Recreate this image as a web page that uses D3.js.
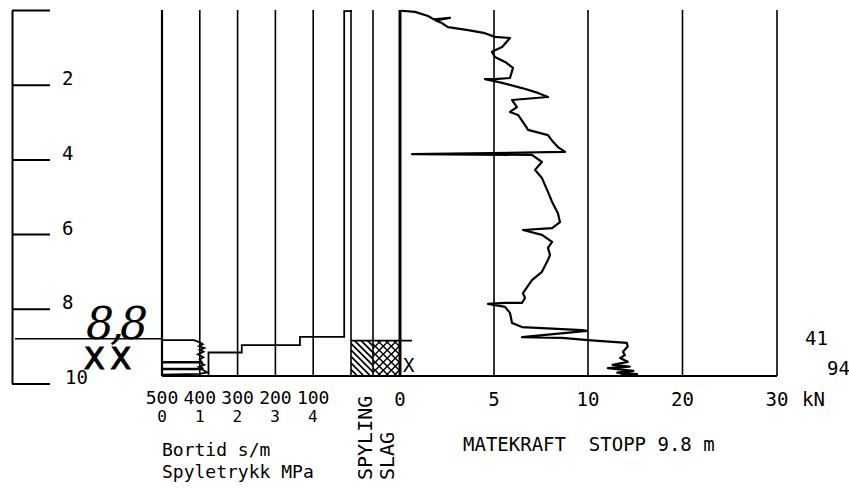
<!DOCTYPE html>
<html><head><meta charset="utf-8">
<script src="https://cdn.jsdelivr.net/npm/d3@7"></script>
<style>
body{margin:0;background:#fff}
svg{display:block}
text{font-family:"DejaVu Sans Mono",monospace;fill:#000;white-space:pre}
</style>
</head><body>
<svg id="c" width="849" height="489"></svg>
<script>
// ---------- data ----------
const depthTicks = [0, 2, 4, 6, 8, 10];
const bortTicks = [500, 400, 300, 200, 100, 0];
const bortLabels = [500, 400, 300, 200, 100];
const spylLabels = [0, 1, 2, 3, 4];
const mateTicks = [0, 5, 10, 20, 30];
const stopDepth = 9.8;
const markDepth = 8.8;
const hatchTop = 8.85;
// Bortid s/m, step trace: [depth where value starts, value]
const bortData = [[0, 0], [0.03, 18], [8.75, 135], [8.97, 289], [9.17, 377], [9.8, 377]];
// Spyletrykk MPa: [depth, MPa]
const spylData = [[0, 0], [8.84, 0], [8.84, 0.85], [8.9, 1.0], [8.95, 1.08], [9.0, 0.98], [9.05, 1.12],
  [9.1, 1.0], [9.15, 1.1], [9.22, 0.95], [9.3, 1.1], [9.36, 1.0], [9.42, 1.05], [9.42, 0], [9.44, 0],
  [9.44, 1.0], [9.5, 1.12], [9.55, 0.98], [9.6, 1.1], [9.6, 0], [9.62, 0], [9.62, 1.05], [9.7, 1.2],
  [9.74, 1.0], [9.76, 0], [9.8, 0]];
// Matekraft kN: [depth, kN]
const mateData = [[0.02, 0.05], [0.05, 0.8], [0.16, 1.49], [0.25, 1.8], [0.21, 2.66], [0.28, 1.9],
  [0.35, 2.23], [0.46, 2.55], [0.54, 3.62], [0.62, 4.52], [0.72, 5.05], [0.75, 5.85], [0.99, 5.43],
  [1.12, 4.89], [1.26, 5.05], [1.39, 5.59], [1.55, 6.01], [1.82, 5.85], [1.85, 5.05], [1.85, 4.52],
  [1.95, 5.43], [2.09, 6.49], [2.22, 7.34], [2.33, 7.87], [2.41, 5.96], [2.6, 6.22], [2.73, 5.85],
  [2.81, 6.28], [3.08, 6.65], [3.21, 6.81], [3.35, 7.87], [3.53, 8.14], [3.67, 8.4], [3.8, 8.78],
  [3.86, 0.64], [3.88, 7.02], [4.07, 7.55], [4.28, 7.18], [4.5, 7.55], [4.87, 7.87], [5.14, 8.09],
  [5.44, 8.4], [5.68, 8.51], [5.84, 8.09], [5.89, 6.54], [6.02, 7.55], [6.21, 8.09], [6.37, 7.87],
  [6.56, 7.98], [6.69, 7.87], [7.01, 7.55], [7.23, 7.02], [7.42, 6.76], [7.58, 6.54], [7.71, 6.65],
  [7.84, 6.49], [7.84, 5.59], [7.87, 4.68], [7.95, 5.59], [8.11, 5.85], [8.38, 5.96], [8.49, 6.49],
  [8.57, 9.68], [8.59, 9.95], [8.76, 6.49], [8.78, 8.62], [8.84, 10.0], [8.91, 14.1], [9.01, 14.2],
  [9.15, 13.7], [9.24, 13.9], [9.32, 13.4], [9.42, 14.2], [9.5, 12.6], [9.55, 14.4], [9.59, 12.1],
  [9.66, 14.8], [9.71, 13.1], [9.75, 15.2], [9.78, 13.4]];
const rightLabels = ["41", "94"];

// ---------- scales ----------
const svg = d3.select("#c");
const y = d3.scaleLinear().domain([0, 10]).range([10, 383.5]);
const xB = d3.scaleLinear().domain([500, 0]).range([162, 351]);
const xS = d3.scaleLinear().domain([0, 5]).range([162, 350.5]);
const xM = d3.scaleLinear().domain([0, 10, 30]).range([400, 588, 777]);
const yTop = y(0), yBot = y(stopDepth);
const colMid = 373;

// ---------- depth axis ----------
const ax = svg.append("g").attr("transform", "translate(12,0)")
  .call(d3.axisRight(y).tickValues(depthTicks).tickSize(38).tickSizeOuter(0)
    .tickFormat(d => d ? d : ""))
  .attr("font-family", "DejaVu Sans Mono").attr("font-size", 19);
ax.select(".domain").attr("stroke-width", 2);
ax.selectAll(".tick line").attr("stroke-width", 2);
ax.selectAll(".tick text").attr("x", d => d === 10 ? 53 : 50).attr("dy", 0);

// 8.8 marker line
svg.append("line").attr("x1", 15).attr("x2", xB(500)).attr("y1", y(markDepth)).attr("y2", y(markDepth))
  .attr("stroke", "#000").attr("stroke-width", 1.6);

// ---------- grids ----------
const g = svg.append("g").attr("stroke", "#000");
g.selectAll(".bg").data(bortTicks).join("line")
  .attr("x1", d => xB(d)).attr("x2", d => xB(d)).attr("y1", yTop).attr("y2", yBot)
  .attr("stroke-width", d => d === 500 ? 2.2 : 1.6);
g.append("line").attr("x1", colMid).attr("x2", colMid).attr("y1", yTop).attr("y2", yBot).attr("stroke-width", 1.6);
g.selectAll(".mg").data(mateTicks).join("line")
  .attr("x1", d => xM(d)).attr("x2", d => xM(d)).attr("y1", yTop).attr("y2", yBot)
  .attr("stroke-width", d => d === 0 ? 3 : 1.6);
g.append("line").attr("x1", xB(500)).attr("x2", xM(30)).attr("y1", yBot).attr("y2", yBot).attr("stroke-width", 2);

// ---------- hatching ----------
const defs = svg.append("defs");
const hy0 = y(hatchTop), hh = yBot - hy0;
defs.append("clipPath").attr("id", "cs").append("rect")
  .attr("x", xB(0)).attr("y", hy0).attr("width", colMid - xB(0)).attr("height", hh);
defs.append("clipPath").attr("id", "cl").append("rect")
  .attr("x", colMid).attr("y", hy0).attr("width", xM(0) - colMid).attr("height", hh);
const hs = svg.append("g").attr("clip-path", "url(#cs)").attr("stroke", "#000").attr("stroke-width", 1.7);
hs.selectAll("line").data(d3.range(xB(0) - hh, colMid + 2, 6.5)).join("line")
  .attr("x1", d => d).attr("y1", hy0).attr("x2", d => d + hh).attr("y2", yBot);
const hl = svg.append("g").attr("clip-path", "url(#cl)").attr("stroke", "#000").attr("stroke-width", 1.5);
hl.selectAll(".a").data(d3.range(colMid - hh, xM(0) + 2, 8)).join("line")
  .attr("x1", d => d).attr("y1", hy0).attr("x2", d => d + hh).attr("y2", yBot);
hl.selectAll(".b").data(d3.range(colMid, xM(0) + hh + 2, 8)).join("line").attr("class", "b")
  .attr("x1", d => d).attr("y1", hy0).attr("x2", d => d - hh).attr("y2", yBot);
svg.append("line").attr("x1", xB(0)).attr("x2", xM(0) + 12).attr("y1", hy0).attr("y2", hy0)
  .attr("stroke", "#000").attr("stroke-width", 1.8);
svg.append("text").attr("x", xM(0) + 3).attr("y", y(9.5) + 7).attr("font-size", 19).text("X");

// ---------- traces ----------
const bortLine = d3.line().x(d => xB(d[1])).y(d => y(d[0])).curve(d3.curveStepBefore);
svg.append("path").datum(bortData).attr("d", bortLine)
  .attr("fill", "none").attr("stroke", "#000").attr("stroke-width", 1.8);
const spylLine = d3.line().x(d => xS(d[1])).y(d => y(d[0]));
svg.append("path").datum(spylData).attr("d", spylLine)
  .attr("fill", "none").attr("stroke", "#000").attr("stroke-width", 1.8);
const mateLine = d3.line().x(d => xM(d[1])).y(d => y(d[0]));
svg.append("path").datum(mateData).attr("d", mateLine)
  .attr("fill", "none").attr("stroke", "#000").attr("stroke-width", 2.2).attr("stroke-linejoin", "round");

// ---------- labels ----------
const t = svg.append("g").attr("font-size", 19);
t.selectAll(".bl").data(bortLabels).join("text").attr("class", "bl")
  .attr("x", d => xB(d)).attr("y", 404).attr("text-anchor", "middle").attr("font-size", 18).text(d => d);
t.selectAll(".sl").data(spylLabels).join("text").attr("class", "sl")
  .attr("x", d => xS(d)).attr("y", 422).attr("text-anchor", "middle").attr("font-size", 16).text(d => d);
t.selectAll(".ml").data(mateTicks).join("text").attr("class", "ml")
  .attr("x", d => xM(d)).attr("y", 406).attr("text-anchor", "middle").text(d => d);
t.append("text").attr("x", 802).attr("y", 406).text("kN");
t.append("text").attr("x", 162).attr("y", 456).attr("font-size", 18).text("Bortid s/m");
t.append("text").attr("x", 162).attr("y", 478).attr("font-size", 18).text("Spyletrykk MPa");
t.append("text").attr("x", 463).attr("y", 451).text("MATEKRAFT  STOPP 9.8 m");
t.append("text").attr("transform", "translate(372,480) rotate(-90)").attr("font-size", 20).text("SPYLING");
t.append("text").attr("transform", "translate(394,480) rotate(-90)").attr("font-size", 20).text("SLAG");
t.selectAll(".rl").data(rightLabels).join("text").attr("class", "rl")
  .attr("x", (d, i) => i ? 827 : 805).attr("y", (d, i) => i ? 375 : 345).text(d => d);

// handwritten notes
svg.append("text").attr("x", 86).attr("y", 339).attr("font-size", 44)
  .style("font-family", "DejaVu Serif").style("font-style", "italic").attr("letter-spacing", -4).text("8,8");
svg.append("text").attr("x", 84).attr("y", 369).attr("font-size", 30)
  .style("font-family", "DejaVu Sans").attr("stroke", "#000").attr("stroke-width", 1.2)
  .attr("letter-spacing", 6).text("XX");
</script>
</body></html>
